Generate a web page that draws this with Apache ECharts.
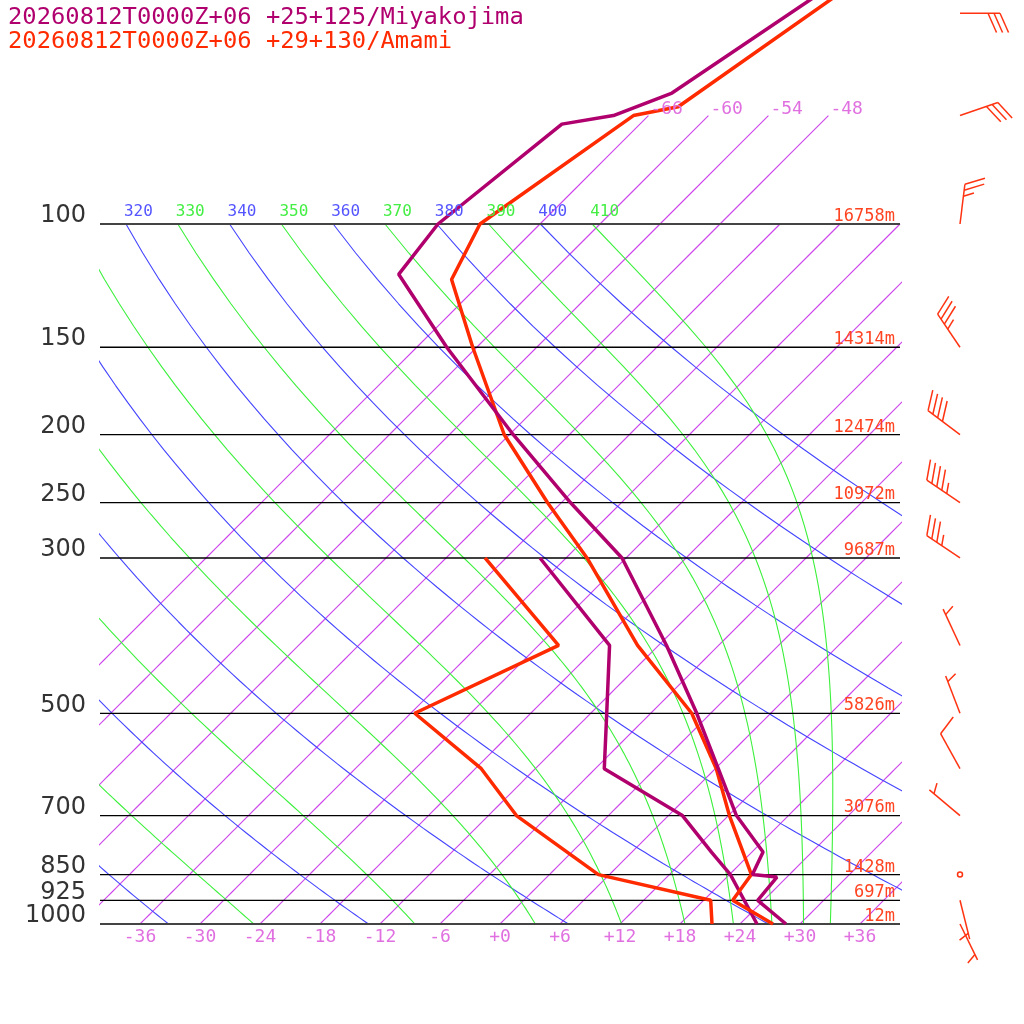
<!DOCTYPE html>
<html>
<head>
<meta charset="utf-8">
<script src="https://cdn.jsdelivr.net/npm/echarts@6/dist/echarts.min.js"></script>
<style>
  html, body { margin: 0; padding: 0; background: #fff; }
  #skewt { width: 1024px; height: 1024px; }
</style>
</head>
<body>
<div id="skewt"></div>
<script>
// pressure levels drawn as horizontal lines, with geopotential heights
const levels = [1000, 925, 850, 700, 500, 300, 250, 200, 150, 100];
const heights = ['12m', '697m', '1428m', '3076m', '5826m', '9687m', '10972m', '12474m', '14314m', '16758m'];
const tempTicks = [-36, -30, -24, -18, -12, -6, 0, 6, 12, 18, 24, 30, 36];
const isotherms = [-66, -60, -54, -48, -42, -36, -30, -24, -18, -12, -6, 0, 6, 12, 18, 24, 30, 36];
const isothermTopLabels = [-66, -60, -54, -48];
const dryTheta = [240, 260, 280, 300, 320, 340, 360, 380, 400];
const moistTheta = [250, 270, 290, 310, 330, 350, 370, 390, 410];

// Miyakojima (purple)
const miyaP = [1000, 925, 857, 850, 789, 700, 600, 500, 400, 300, 250, 200, 150, 118, 100, 72, 70, 65, 45];
const miyaT = [28.6, 23.4, 23.0, 20.3, 19.1, 12.8, 6.3, -1.4, -11.2, -24.4, -35.1, -47.6, -63.0, -75.1, -76.2, -73.8, -69.5, -65.9, -60.5];
const miyaDP = [1000, 850, 790, 700, 600, 500, 400, 300];
const miyaTd = [25.7, 18.1, 14.0, 7.4, -5.1, -10.4, -16.9, -32.6];

// Amami (red)
const amamiP = [1000, 925, 850, 700, 600, 500, 400, 300, 250, 200, 150, 120, 100, 70, 68, 45];
const amamiT = [27.3, 20.9, 20.2, 12.1, 6.1, -1.9, -14.1, -27.9, -37.4, -48.5, -60.4, -69.3, -72.0, -67.5, -63.9, -58.6];
const amamiDP = [1000, 925, 850, 700, 600, 500, 400, 300];
const amamiTd = [21.2, 18.7, 4.9, -9.2, -17.4, -29.6, -22.0, -38.1];

// Amami winds
const windP = [50, 70, 100, 150, 200, 250, 300, 400, 500, 600, 700, 850, 925, 1000];
const windDir = [90, 71, 7, 326, 307, 304, 304, 335, 339, 331, 310, 0, 166, 154];
const windSpd = [30, 30, 25, 35, 40, 45, 35, 5, 5, 10, 5, 0, 5, 5];

const titles = ['20260812T0000Z+06 +25+125/Miyakojima', '20260812T0000Z+06 +29+130/Amami'];

const PURPLE = '#b0006e';
const RED = '#ff2a00';
const ISO = 'rgb(205, 70, 235)';
const BLUE = '#4444ff';
const GREEN = '#3cf03c';
const MONO = "'DejaVu Sans Mono', 'Liberation Mono', monospace";

// skew-T transform: y = log10(1000/p), x = T + 70*y
const Yp = p => Math.log10(1000 / p);
const Xs = (t, p) => t + 70 * Yp(p);

function esat(tc) { return 6.112 * Math.exp(17.67 * tc / (tc + 243.5)); }
function moistLapse(p, tk) {
    const es = esat(tk - 273.15);
    const rs = 0.622 * es / (p - es);
    const Rd = 287.04, Cp = 1005.7, L = 2.501e6;
    return (Rd * tk + L * rs) / (Cp + L * L * rs * 0.622 / (Rd * tk * tk)) / p;
}

const series = [];
function addLine(pts, color, width, z) {
    series.push({
        type: 'line', data: pts, symbol: 'none', silent: true, z: z || 2,
        lineStyle: { color: color, width: width }
    });
}

// isotherms, sampled along pressure like the adiabats
isotherms.forEach(t => {
    const ptop = t <= -48 ? 70 : 100;
    const pts = [];
    for (let p = 1000; p >= ptop; p -= 10) pts.push([Xs(t, p), Yp(p)]);
    addLine(pts, ISO, 1.15);
});

// dry adiabats
dryTheta.forEach(th => {
    const pts = [];
    for (let p = 1000; p >= 100; p -= 10) {
        const t = th * Math.pow(p / 1000, 0.2857) - 273.15;
        pts.push([Xs(t, p), Yp(p)]);
    }
    addLine(pts, BLUE, 1.1);
});

// moist adiabats, integrated down from 100 hPa
moistTheta.forEach(th => {
    let tk = th * Math.pow(0.1, 0.2857);
    const pts = [[Xs(tk - 273.15, 100), 1]];
    const dp = 2;
    for (let p = 100; p < 1000; p += dp) {
        const k1 = moistLapse(p, tk);
        const k2 = moistLapse(p + dp / 2, tk + k1 * dp / 2);
        const k3 = moistLapse(p + dp / 2, tk + k2 * dp / 2);
        const k4 = moistLapse(p + dp, tk + k3 * dp);
        tk += dp * (k1 + 2 * k2 + 2 * k3 + k4) / 6;
        if ((p + dp) % 10 === 0) pts.push([Xs(tk - 273.15, p + dp), Yp(p + dp)]);
    }
    addLine(pts, GREEN, 1.1);
});

// pressure lines
levels.forEach(p => {
    const edge = p === 100 || p === 1000;
    addLine([[-40, Yp(p)], [40, Yp(p)]], edge ? '#444' : '#000', edge ? 2 : 1.3, 3);
});

// soundings
function profile(ps, ts) { return ps.map((p, i) => [Xs(ts[i], p), Yp(p)]); }
addLine(profile(amamiDP, amamiTd), RED, 3.5, 5);
addLine(profile(miyaDP, miyaTd), PURPLE, 3.5, 5);
addLine(profile(amamiP, amamiT), RED, 3.5, 6);
addLine(profile(miyaP, miyaT), PURPLE, 3.5, 6);

// text label helper
function textSeries(points, texts, style, dx, dy, clip, fillFn) {
    series.push({
        type: 'custom', silent: true, clip: !!clip, z: 10,
        data: points,
        renderItem: (params, api) => {
            const c = api.coord([api.value(0), api.value(1)]);
            const s = Object.assign({ text: texts[params.dataIndex] }, style);
            if (fillFn) s.fill = fillFn(params.dataIndex);
            return { type: 'text', x: c[0] + dx, y: c[1] + dy, style: s };
        }
    });
}

// pressure labels (left)
textSeries(levels.map(p => [-40, Yp(p)]), levels.map(String),
    { fill: '#333', font: "24px 'DejaVu Sans'", align: 'right', verticalAlign: 'bottom' }, -14, 4);
// height labels (right)
textSeries(levels.map(p => [40, Yp(p)]), heights,
    { fill: '#ff4422', font: '17px ' + MONO, align: 'right', verticalAlign: 'bottom' }, -5, 1);
// temperature tick labels (bottom)
textSeries(tempTicks.map(t => [t, 0]), tempTicks.map(t => (t >= 0 ? '+' : '') + t),
    { fill: '#e070e0', font: '18px ' + MONO, align: 'center', verticalAlign: 'middle' }, 0, 13);
// isotherm labels (top)
textSeries(isothermTopLabels.map(t => [Xs(t, 70), Yp(70)]), isothermTopLabels.map(String),
    { fill: '#e070e0', font: '18px ' + MONO, align: 'left', verticalAlign: 'bottom' }, 2, 3);
// adiabat labels along 100 hPa, clipped to the plot
const adiabatLabels = dryTheta.concat(moistTheta).filter(th => th >= 310).sort((a, b) => a - b);
textSeries(adiabatLabels.map(th => [Xs(th * Math.pow(0.1, 0.2857) - 273.15, 100), 1]),
    adiabatLabels.map(String), { font: '16px ' + MONO, align: 'left', verticalAlign: 'middle' }, -2, -12, true,
    i => moistTheta.indexOf(adiabatLabels[i]) >= 0 ? '#44ee44' : '#5555ff');

// wind barbs
series.push({
    type: 'custom', silent: true, clip: false, z: 10,
    data: windP.map(p => [46, Yp(p)]),
    renderItem: (params, api) => {
        const i = params.dataIndex;
        const b = api.coord([api.value(0), api.value(1)]);
        const spd = windSpd[i];
        const st = { stroke: '#ff3311', lineWidth: 1.5 };
        if (spd === 0) {
            return { type: 'circle', shape: { cx: b[0], cy: b[1], r: 2.5 }, style: { fill: null, stroke: '#ff3311', lineWidth: 1.5 } };
        }
        const d = windDir[i] * Math.PI / 180;
        const ux = Math.sin(d), uy = -Math.cos(d);
        const L = 40;
        const tx = b[0] + ux * L, ty = b[1] + uy * L;
        const a = 24 * Math.PI / 180;
        const bx = -uy * Math.cos(a) + ux * Math.sin(a);
        const by = ux * Math.cos(a) + uy * Math.sin(a);
        const children = [{ type: 'line', shape: { x1: b[0], y1: b[1], x2: tx, y2: ty }, style: st }];
        const full = Math.floor(spd / 10), half = spd % 10 >= 5 ? 1 : 0;
        let pos = full === 0 ? 1 : 0;
        for (let k = 0; k < full + half; k++) {
            const len = k < full ? 21 : 11;
            const sx = tx - ux * 6 * pos, sy = ty - uy * 6 * pos;
            children.push({ type: 'line', shape: { x1: sx, y1: sy, x2: sx + bx * len, y2: sy + by * len }, style: st });
            pos++;
        }
        return { type: 'group', children: children };
    }
});

const chart = echarts.init(document.getElementById('skewt'));
chart.setOption({
    animation: false,
    grid: { left: 100, right: 124, top: 0, bottom: 100, containLabel: false },
    xAxis: { type: 'value', min: -40, max: 40, show: false },
    yAxis: { type: 'value', min: 0, max: 924 / 700, show: false },
    graphic: [
        { type: 'text', x: 8, y: 18, style: { text: titles[0], fill: PURPLE, font: '23.8px ' + MONO, verticalAlign: 'middle' } },
        { type: 'text', x: 8, y: 42, style: { text: titles[1], fill: RED, font: '23.8px ' + MONO, verticalAlign: 'middle' } }
    ],
    series: series
});
</script>
</body>
</html>
